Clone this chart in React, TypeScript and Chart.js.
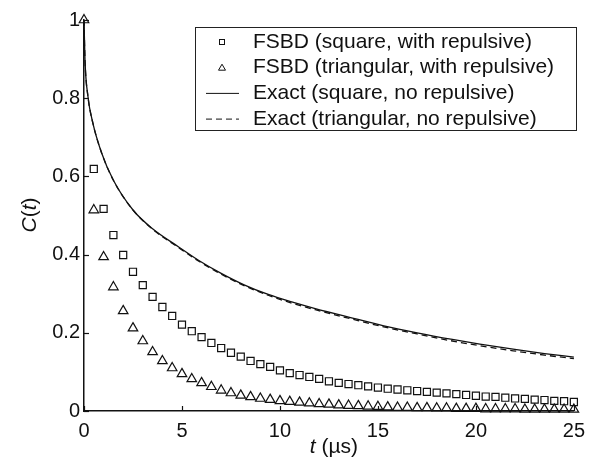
import React, { useEffect, useRef } from "react";
import { Chart, registerables } from "chart.js";

Chart.register(...registerables);

// ---- data ----
const tExact = [0, 0.05, 0.2, 0.45, 0.9, 1.5, 2.5, 3.5, 4.85, 5.86, 7, 8.2, 9.4, 10.6, 11.8, 13.6, 15.3, 17, 18.8, 20.2, 21.9, 23.5, 25];
const exactSquare = [1.0, 0.898, 0.805, 0.737, 0.66, 0.59, 0.514, 0.466, 0.419, 0.385, 0.352, 0.322, 0.298, 0.279, 0.262, 0.239, 0.218, 0.2, 0.183, 0.171, 0.158, 0.147, 0.138];
const exactTriangular = [1.0, 0.898, 0.805, 0.737, 0.66, 0.59, 0.514, 0.465, 0.417, 0.383, 0.35, 0.32, 0.296, 0.276, 0.259, 0.236, 0.215, 0.197, 0.179, 0.167, 0.154, 0.143, 0.134];

const tSquare = [0.5, 1, 1.5, 2, 2.5, 3, 3.5, 4, 4.5, 5, 5.5, 6, 6.5, 7, 7.5, 8, 8.5, 9, 9.5, 10, 10.5, 11, 11.5, 12, 12.5, 13, 13.5, 14, 14.5, 15, 15.5, 16, 16.5, 17, 17.5, 18, 18.5, 19, 19.5, 20, 20.5, 21, 21.5, 22, 22.5, 23, 23.5, 24, 24.5, 25];
const fsbdSquare = [0.619, 0.517, 0.45, 0.399, 0.356, 0.322, 0.292, 0.266, 0.243, 0.221, 0.204, 0.189, 0.174, 0.161, 0.149, 0.139, 0.128, 0.12, 0.113, 0.104, 0.097, 0.092, 0.087, 0.082, 0.076, 0.072, 0.069, 0.066, 0.063, 0.06, 0.057, 0.055, 0.053, 0.051, 0.049, 0.047, 0.045, 0.043, 0.041, 0.039, 0.037, 0.036, 0.034, 0.032, 0.031, 0.029, 0.028, 0.026, 0.025, 0.023];

const tTriangle = [0, 0.5, 1, 1.5, 2, 2.5, 3, 3.5, 4, 4.5, 5, 5.5, 6, 6.5, 7, 7.5, 8, 8.5, 9, 9.5, 10, 10.5, 11, 11.5, 12, 12.5, 13, 13.5, 14, 14.5, 15, 15.5, 16, 16.5, 17, 17.5, 18, 18.5, 19, 19.5, 20, 20.5, 21, 21.5, 22, 22.5, 23, 23.5, 24, 24.5, 25];
const fsbdTriangular = [1.0, 0.514, 0.394, 0.317, 0.256, 0.212, 0.179, 0.151, 0.128, 0.11, 0.095, 0.082, 0.072, 0.062, 0.053, 0.046, 0.04, 0.036, 0.032, 0.029, 0.026, 0.024, 0.022, 0.02, 0.018, 0.017, 0.015, 0.014, 0.013, 0.012, 0.011, 0.01, 0.009, 0.009, 0.008, 0.008, 0.007, 0.007, 0.006, 0.006, 0.006, 0.005, 0.005, 0.005, 0.005, 0.004, 0.004, 0.004, 0.004, 0.004, 0.004];

const seriesLabels = [
  "FSBD (square, with repulsive)",
  "FSBD (triangular, with repulsive)",
  "Exact (square, no repulsive)",
  "Exact (triangular, no repulsive)",
];

const xTicks = [0, 5, 10, 15, 20, 25];
const yTicks = [0, 0.2, 0.4, 0.6, 0.8, 1];

const FONT = '"Liberation Sans", Arial, Helvetica, sans-serif';
const INK = "#111";

const toXY = (xs: number[], ys: number[]) => xs.map((x, i) => ({ x, y: ys[i] }));

const decorPlugin = {
  id: "decor",
  afterDraw(chart: any) {
    const { ctx, chartArea, scales } = chart;
    const { left, right, bottom } = chartArea;
    ctx.save();

    // inward tick marks
    ctx.strokeStyle = INK;
    ctx.lineWidth = 1.2;
    ctx.setLineDash([]);
    xTicks.forEach((v) => {
      const px = Math.round(scales.x.getPixelForValue(v)) + 0.5;
      ctx.beginPath();
      ctx.moveTo(px, bottom);
      ctx.lineTo(px, bottom - 5);
      ctx.stroke();
    });
    yTicks.forEach((v) => {
      const py = Math.round(scales.y.getPixelForValue(v)) + 0.5;
      ctx.beginPath();
      ctx.moveTo(left, py);
      ctx.lineTo(left + 5, py);
      ctx.stroke();
    });

    // legend
    const bx = 195, by = 27, bw = 381, bh = 103;
    ctx.fillStyle = "#fff";
    ctx.fillRect(bx, by, bw, bh);
    ctx.strokeStyle = "#222";
    ctx.lineWidth = 1;
    ctx.strokeRect(bx + 0.5, by + 0.5, bw, bh);
    const datasets = chart.data.datasets;
    datasets.forEach((ds: any, i: number) => {
      const cy = by + 15 + i * 25.7;
      const mx = 222;
      ctx.strokeStyle = INK;
      ctx.lineWidth = 1;
      if (ds.showLine) {
        ctx.setLineDash(ds.borderDash || []);
        ctx.beginPath();
        ctx.moveTo(206, cy);
        ctx.lineTo(239, cy);
        ctx.stroke();
        ctx.setLineDash([]);
      } else if (ds.pointStyle === "rect") {
        ctx.strokeRect(mx - 2.5, cy - 2.5, 5, 5);
      } else if (ds.pointStyle === "triangle") {
        ctx.beginPath();
        ctx.moveTo(mx, cy - 3.5);
        ctx.lineTo(mx + 3.5, cy + 2.5);
        ctx.lineTo(mx - 3.5, cy + 2.5);
        ctx.closePath();
        ctx.stroke();
      }
      ctx.fillStyle = INK;
      ctx.font = `21px ${FONT}`;
      ctx.textAlign = "left";
      ctx.textBaseline = "middle";
      ctx.fillText(ds.label, 253, cy);
    });

    // x axis title: italic t + " (µs)"
    const xParts = [
      { text: "t", font: `italic 21px ${FONT}` },
      { text: " (\u00b5s)", font: `21px ${FONT}` },
    ];
    let total = 0;
    xParts.forEach((p) => { ctx.font = p.font; total += ctx.measureText(p.text).width; });
    let xx = (left + right) / 2 + 5 - total / 2;
    ctx.textBaseline = "middle";
    ctx.textAlign = "left";
    ctx.fillStyle = INK;
    xParts.forEach((p) => { ctx.font = p.font; ctx.fillText(p.text, xx, 447); xx += ctx.measureText(p.text).width; });

    // y axis title: C(t), rotated
    const yParts = [
      { text: "C", font: `italic 21px ${FONT}` },
      { text: "(", font: `21px ${FONT}` },
      { text: "t", font: `italic 21px ${FONT}` },
      { text: ")", font: `21px ${FONT}` },
    ];
    total = 0;
    yParts.forEach((p) => { ctx.font = p.font; total += ctx.measureText(p.text).width; });
    ctx.translate(30, 215);
    ctx.rotate(-Math.PI / 2);
    let yy = -total / 2;
    yParts.forEach((p) => { ctx.font = p.font; ctx.fillText(p.text, yy, 0); yy += ctx.measureText(p.text).width; });

    ctx.restore();
  },
};

export default function App() {
  const ref = useRef<HTMLCanvasElement | null>(null);

  useEffect(() => {
    if (!ref.current) return;
    const chart = new Chart(ref.current, {
      type: "scatter",
      data: {
        datasets: [
          {
            label: seriesLabels[0],
            data: toXY(tSquare, fsbdSquare),
            showLine: false,
            pointStyle: "rect",
            pointRadius: 5,
            borderWidth: 1.2,
            borderColor: INK,
            backgroundColor: "rgba(0,0,0,0)",
            clip: false,
          },
          {
            label: seriesLabels[1],
            data: toXY(tTriangle, fsbdTriangular),
            showLine: false,
            pointStyle: "triangle",
            pointRadius: 5.5,
            borderWidth: 1.2,
            borderColor: INK,
            backgroundColor: "rgba(0,0,0,0)",
            clip: false,
          },
          {
            label: seriesLabels[2],
            data: toXY(tExact, exactSquare),
            showLine: true,
            pointRadius: 0,
            borderWidth: 1.3,
            borderColor: INK,
            backgroundColor: "rgba(0,0,0,0)",
            cubicInterpolationMode: "monotone",
            clip: false,
          },
          {
            label: seriesLabels[3],
            data: toXY(tExact, exactTriangular),
            showLine: true,
            pointRadius: 0,
            borderWidth: 1.3,
            borderDash: [6, 4],
            borderColor: INK,
            backgroundColor: "rgba(0,0,0,0)",
            cubicInterpolationMode: "monotone",
            clip: false,
          },
        ] as any,
      },
      options: {
        animation: false,
        responsive: false,
        devicePixelRatio: 1,
        layout: { padding: { top: 20, right: 13, left: 0, bottom: 0 } },
        plugins: {
          legend: { display: false },
          tooltip: { enabled: false },
        },
        scales: {
          x: {
            type: "linear",
            min: 0,
            max: 25,
            afterFit: (s: any) => { s.height = 53; },
            afterBuildTicks: (s: any) => { s.ticks = xTicks.map((v) => ({ value: v })); },
            ticks: {
              font: { family: FONT, size: 20 },
              color: INK,
              padding: 8,
              maxRotation: 0,
              callback: (v: any) => String(v),
            },
            grid: { display: true, drawOnChartArea: false, drawTicks: false },
            border: { display: true, color: INK, width: 1.5 },
          },
          y: {
            type: "linear",
            min: 0,
            max: 1,
            afterFit: (s: any) => { s.width = 84; },
            afterBuildTicks: (s: any) => { s.ticks = yTicks.map((v) => ({ value: v })); },
            ticks: {
              font: { family: FONT, size: 20 },
              color: INK,
              padding: 4,
              callback: (v: any) => String(+Number(v).toFixed(1)),
            },
            grid: { display: true, drawOnChartArea: false, drawTicks: false },
            border: { display: true, color: INK, width: 1.5 },
          },
        },
      } as any,
      plugins: [decorPlugin],
    });
    return () => chart.destroy();
  }, []);

  return (
    <div style={{ position: "fixed", left: 0, top: 0, width: 593, height: 464, background: "#fff" }}>
      <canvas ref={ref} width={593} height={464} style={{ display: "block", width: 593, height: 464 }} />
    </div>
  );
}
